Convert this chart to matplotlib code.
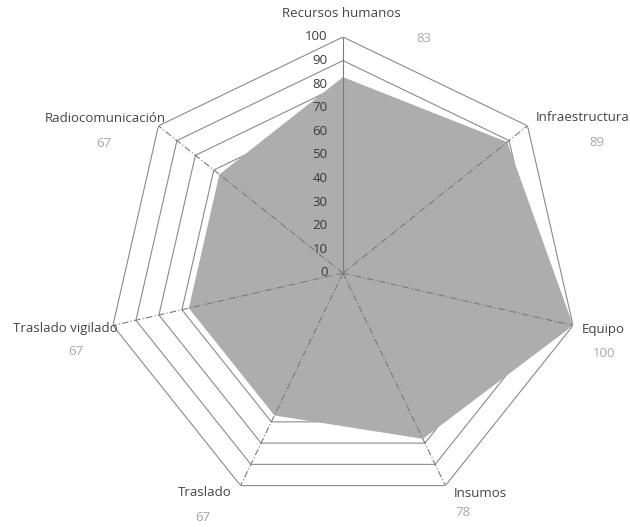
import numpy as np
import matplotlib
matplotlib.use("Agg")
import matplotlib.pyplot as plt

plt.rcParams['font.family'] = ['Open Sans', 'DejaVu Sans']

categories = ["Recursos humanos", "Infraestructura", "Equipo", "Insumos",
              "Traslado", "Traslado vigilado", "Radiocomunicación"]
values = [83, 89, 100, 78, 67, 67, 67]
scale_ticks = [0, 10, 20, 30, 40, 50, 60, 70, 80, 90, 100]

# label offsets (points) relative to each axis end: name, value
name_offsets = [(-1, 17), (40, 6), (22, -3), (25, -6), (-26, -5), (-34, -2), (-38, 5)]
value_offsets = [(58, -1), (50, -12), (22, -20), (13, -19), (-27, -23), (-27, -19), (-39, -13)]

n = len(categories)
theta = np.arange(n) * 2 * np.pi / n

fig = plt.figure(figsize=(6.3, 5.27), dpi=100)
cx, cy, R = 343, 273, 236
W, H = 630, 527
ax = fig.add_axes([(cx - R) / W, (H - cy - R) / H, 2 * R / W, 2 * R / H],
                  projection='polar')
ax.set_theta_zero_location('N')
ax.set_theta_direction(-1)
ax.set_ylim(0, 100)
ax.set_xticks([])
ax.set_yticks([])
ax.grid(False)
ax.spines['polar'].set_visible(False)
ax.patch.set_visible(False)

closed_t = np.append(theta, theta[0])

# heptagonal rings
for r in scale_ticks[1:]:
    ax.plot(closed_t, [r] * (n + 1), color='#8a8a8a', lw=0.8, zorder=1)

# data polygon
vals_closed = np.append(values, values[0])
ax.fill(closed_t, vals_closed, color='#adadad', zorder=2, lw=0)

# spokes
for i, t in enumerate(theta):
    if i == 0:
        ax.plot([t, t], [0, 100], color='#7a7a7a', lw=0.8, zorder=3)
    else:
        ax.plot([t, t], [0, 100], color='#7a7a7a', lw=0.8, zorder=3,
                linestyle=(0, (6, 2, 1, 2)))

# scale numbers along the first axis
for r in scale_ticks:
    ax.annotate(str(r), xy=(0, r), xytext=(-11, 0), textcoords='offset points',
                ha='right', va='center', fontsize=9.5, color='#3a3a3a', zorder=4)

# category names and their values
for i in range(n):
    ax.annotate(categories[i], xy=(theta[i], 100), xytext=name_offsets[i],
                textcoords='offset points', ha='center', va='center',
                fontsize=9.5, color='#444444', annotation_clip=False)
    ax.annotate(str(values[i]), xy=(theta[i], 100), xytext=value_offsets[i],
                textcoords='offset points', ha='center', va='center',
                fontsize=9.5, color='#a8a8a8', annotation_clip=False)

fig.savefig("out.png", dpi=100)
